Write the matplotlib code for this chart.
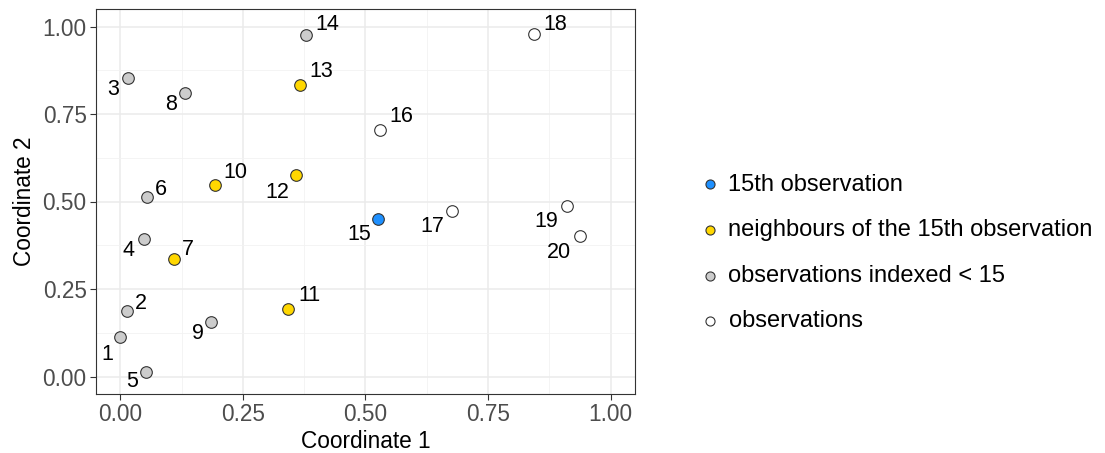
import matplotlib
matplotlib.use("Agg")
import matplotlib.pyplot as plt
from matplotlib.ticker import MultipleLocator

plt.rcParams['font.family'] = ['Liberation Sans', 'DejaVu Sans']

# Coordinates of the 20 observations
coord1 = [0.000, 0.013, 0.015, 0.048, 0.052, 0.055, 0.110, 0.133, 0.186, 0.194,
          0.342, 0.359, 0.366, 0.379, 0.525, 0.530, 0.676, 0.843, 0.910, 0.937]
coord2 = [0.114, 0.188, 0.853, 0.394, 0.014, 0.512, 0.337, 0.810, 0.157, 0.546,
          0.194, 0.575, 0.834, 0.975, 0.450, 0.705, 0.474, 0.979, 0.486, 0.401]
obs_ids = list(range(1, 21))

target = 15
neighbours = [7, 10, 11, 12, 13]

group_names = ["15th observation",
               "neighbours of the 15th observation",
               "observations indexed < 15",
               "observations"]
group_colors = ["#1E90FF", "#FFD700", "#CCCCCC", "#FFFFFF"]

# Label offsets (pixels, x right / y up) chosen to keep labels clear of points
label_dx = [-13, 14, -14, -15, -14, 14, 14, -14, -14, 20,
            21, -19, 21, 21, -19, 21, -20, 21, -20, -21]
label_dy = [-18, 7, -12, -12, -10, 8, 9, -11, -12, 13,
            13, -17, 13, 11, -16, 13, -16, 9, -15, -16]


def group_of(i):
    if i == target:
        return 0
    if i in neighbours:
        return 1
    if i < target:
        return 2
    return 3


W, H = 1105, 453
fig = plt.figure(figsize=(W / 100, H / 100), dpi=100)
left, right, top, bottom = 95.7, 635.3, 9, 394
ax = fig.add_axes([left / W, 1 - bottom / H, (right - left) / W, (bottom - top) / H])

ax.set_xlim(-0.05, 1.05)
ax.set_ylim(-0.05, 1.05)
ax.xaxis.set_minor_locator(MultipleLocator(0.125))
ax.yaxis.set_minor_locator(MultipleLocator(0.125))
ax.set_xticks([0, 0.25, 0.5, 0.75, 1.0])
ax.set_xticklabels(["0.00", "0.25", "0.50", "0.75", "1.00"])
ax.set_yticks([0, 0.25, 0.5, 0.75, 1.0])
ax.set_yticklabels(["0.00", "0.25", "0.50", "0.75", "1.00"])

ax.grid(True, which='major', color='#EBEBEB', linewidth=1.1, zorder=0)
ax.grid(True, which='minor', color='#F2F2F2', linewidth=0.6, zorder=0)
ax.set_axisbelow(True)
ax.tick_params(which='minor', length=0)
ax.tick_params(which='major', length=4, width=0.8, color='#333333',
               labelsize=16.3, labelcolor='#4D4D4D', pad=2.5)
for s in ax.spines.values():
    s.set_color('#333333')
    s.set_linewidth(0.8)

handles = []
for g, (name, col) in enumerate(zip(group_names, group_colors)):
    xs = [coord1[k] for k in range(20) if group_of(obs_ids[k]) == g]
    ys = [coord2[k] for k in range(20) if group_of(obs_ids[k]) == g]
    h = ax.scatter(xs, ys, s=70, c=col, edgecolors='#333333', linewidths=0.8,
                   zorder=3, label=name)
    handles.append(h)

for k in range(20):
    ax.annotate(str(obs_ids[k]), (coord1[k], coord2[k]),
                xytext=(label_dx[k], label_dy[k]), textcoords='offset pixels',
                ha='center', va='center', fontsize=15.5, color='black', zorder=4)

ax.set_xlabel("Coordinate 1", fontsize=16.3, color='black', labelpad=3)
ax.set_ylabel("Coordinate 2", fontsize=16.3, color='black', labelpad=5)

leg = fig.legend(handles=handles, labels=group_names, loc='center left',
                 bbox_to_anchor=(686 / W, 1 - 253 / H), frameon=False,
                 fontsize=17, markerscale=0.78, handletextpad=0.3,
                 labelspacing=1.0, handlelength=1.0, borderpad=0)

fig.savefig("out.png", dpi=100)
